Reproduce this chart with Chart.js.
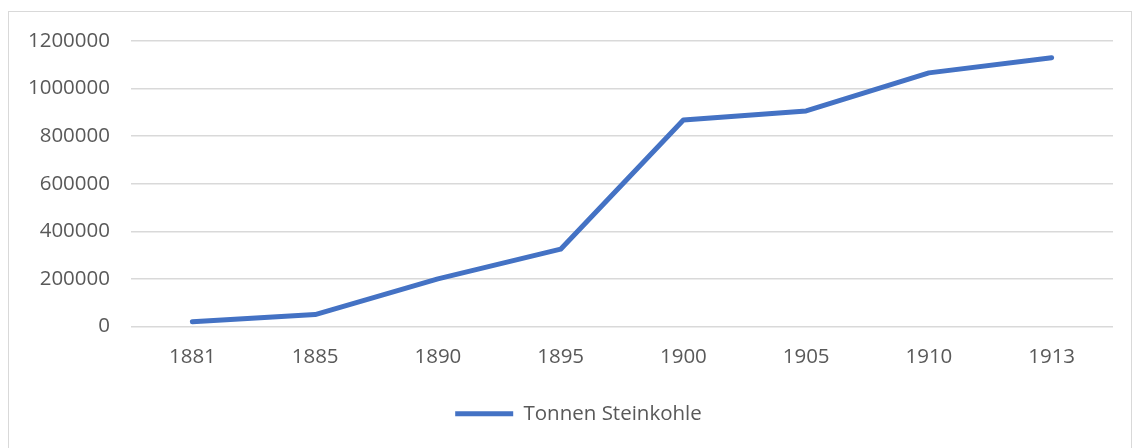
<!DOCTYPE html>
<html>
<head>
<meta charset="utf-8">
<script src="https://cdn.jsdelivr.net/npm/chart.js@4.4.1/dist/chart.umd.min.js"></script>
<style>
  html, body { margin: 0; padding: 0; background: #fff; }
  #frame { position: absolute; left: 8px; top: 11px; width: 1124px; height: 440px; border: 1px solid #d9d9d9; box-sizing: border-box; }
  #wrap { position: absolute; left: 0; top: 0; width: 1140px; height: 448px; }
</style>
</head>
<body>
<div id="frame"></div>
<div id="wrap"><canvas id="chart" width="1140" height="448"></canvas></div>
<script>
const years = ['1881', '1885', '1890', '1895', '1900', '1905', '1910', '1913'];
const tonnen = [20000, 50000, 200000, 325000, 868000, 906000, 1066000, 1130000];
const seriesName = 'Tonnen Steinkohle';

const textColor = '#595959';
const font = { family: '"Open Sans", Lato, sans-serif', size: 20.5 };

// the reference centres its legend a bit right of the canvas centre
const shiftLegend = {
  id: 'shiftLegend',
  afterLayout(chart) {
    chart.legend.left += 22;
    chart.legend.right += 22;
  }
};

new Chart(document.getElementById('chart'), {
  type: 'line',
  data: {
    labels: years,
    datasets: [{
      label: seriesName,
      data: tonnen,
      borderColor: '#4472C4',
      backgroundColor: '#4472C4',
      borderWidth: 5,
      borderCapStyle: 'round',
      borderJoinStyle: 'round',
      pointRadius: 0,
      pointStyle: 'line',
      tension: 0
    }]
  },
  options: {
    responsive: false,
    animation: false,
    layout: { padding: { left: 0, right: 27, top: 41, bottom: 14 } },
    scales: {
      x: {
        offset: true,
        grid: { display: false, drawTicks: false },
        border: { display: false },
        ticks: { color: textColor, font, padding: 18, maxRotation: 0 },
        afterFit: (s) => { s.height = 63; }
      },
      y: {
        min: 0,
        max: 1200000,
        grid: { color: '#d9d9d9', lineWidth: 1.5, drawTicks: false },
        border: { display: false },
        ticks: { stepSize: 200000, color: textColor, font, padding: 21, callback: (v) => String(v) },
        afterFit: (s) => { s.width = 131; }
      }
    },
    plugins: {
      legend: {
        position: 'bottom',
        labels: {
          color: textColor,
          font,
          usePointStyle: true,
          pointStyleWidth: 58,
          padding: 14
        }
      },
      tooltip: { enabled: false }
    }
  },
  plugins: [shiftLegend]
});
</script>
</body>
</html>
